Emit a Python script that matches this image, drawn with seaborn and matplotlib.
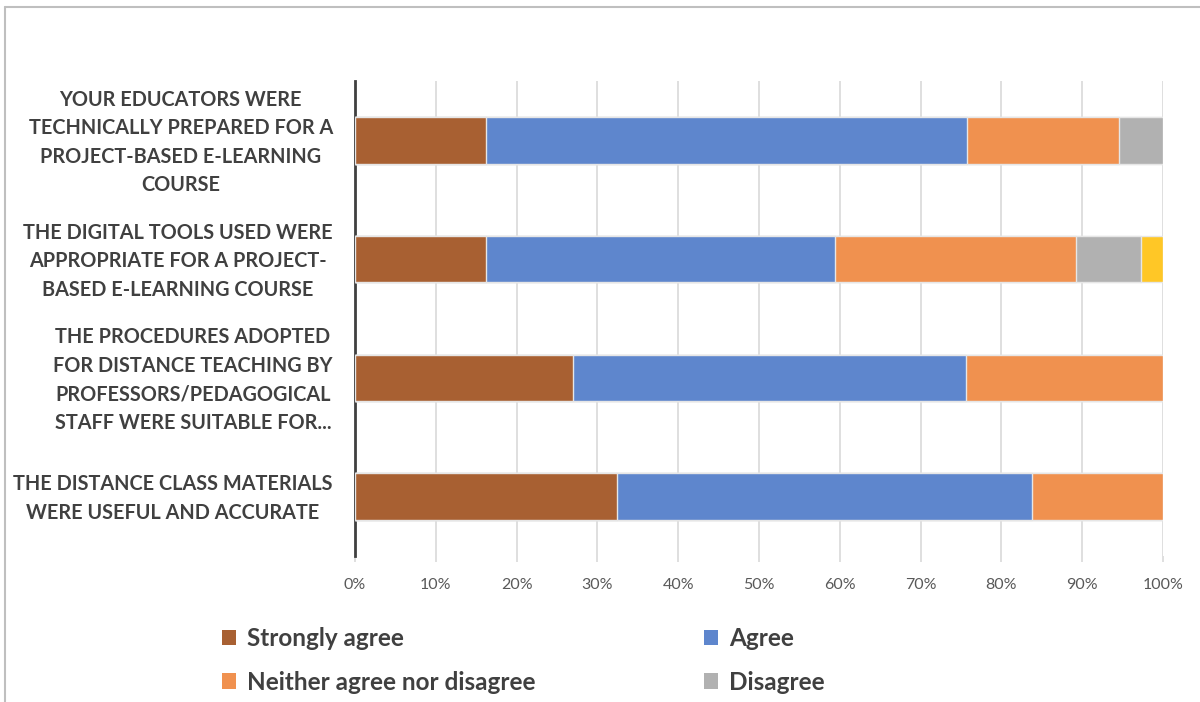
import numpy as np
import pandas as pd
import matplotlib
matplotlib.use("Agg")
import matplotlib.pyplot as plt
import matplotlib.transforms as mtransforms
from matplotlib.patches import Patch
from matplotlib.lines import Line2D
import seaborn as sns

# Survey statements (top to bottom)
questions = [
    "YOUR EDUCATORS WERE\nTECHNICALLY PREPARED FOR A\nPROJECT-BASED E-LEARNING\nCOURSE",
    "THE DIGITAL TOOLS USED WERE\nAPPROPRIATE FOR A PROJECT-\nBASED E-LEARNING COURSE",
    "THE PROCEDURES ADOPTED\nFOR DISTANCE TEACHING BY\nPROFESSORS/PEDAGOGICAL\nSTAFF WERE SUITABLE FOR...",
    "THE DISTANCE CLASS MATERIALS\nWERE USEFUL AND ACCURATE",
]

# Share of answers per statement (%)
strongly_agree = [16.2, 16.2, 27.0, 32.4]
agree = [59.5, 43.2, 48.6, 51.4]
neither = [18.9, 29.7, 24.3, 16.2]
disagree = [5.4, 8.1, 0.0, 0.0]
strongly_disagree = [0.0, 2.7, 0.0, 0.0]

answers = ["Strongly agree", "Agree", "Neither agree nor disagree",
           "Disagree", "Strongly disagree"]
colors = ["#A86032", "#5E86CD", "#F0914F", "#B1B1B1", "#FFC726"]

x_ticks = [0, 10, 20, 30, 40, 50, 60, 70, 80, 90, 100]

series = [strongly_agree, agree, neither, disagree, strongly_disagree]
df = pd.DataFrame({"question": questions})
cum = np.zeros(len(questions))
for name, vals in zip(answers, series):
    cum = cum + np.array(vals)
    df[name] = cum
# Normalise so each stacked bar reaches 100%
total = df[answers[-1]].values.copy()
for name in answers:
    df[name] = df[name] / total * 100

sns.set_theme(style="white")
plt.rcParams["font.family"] = ["Lato", "DejaVu Sans"]

fig = plt.figure(figsize=(12, 7.02), dpi=100)
ax = fig.add_axes([355 / 1200, 1 - 556 / 702, (1163 - 355) / 1200, (556 - 81) / 702])

# Draw cumulative layers from the widest to the narrowest to build the stack
for name, col in reversed(list(zip(answers, colors))):
    sns.barplot(data=df, y="question", x=name, orient="h", color=col,
                width=0.39, ax=ax, edgecolor="#E6E6E6", linewidth=1.0,
                saturation=1, zorder=3)

ax.set_xlim(0, 100)
ax.set_ylim(3.5, -0.5)
ax.set_xticks(x_ticks)
ax.set_xticklabels([f"{t}%" for t in x_ticks], color="#595959", fontsize=11.5)
ax.set_xlabel("")
ax.set_ylabel("")
ax.xaxis.grid(True, color="#D9D9D9", linewidth=1.2, zorder=0)
ax.set_axisbelow(True)
ax.tick_params(axis="x", length=4, color="#D9D9D9", width=1.2, pad=12,
               direction="out", bottom=True)
ax.tick_params(axis="y", length=0, pad=16)
lift = mtransforms.ScaledTranslation(0, 3 / 72, fig.dpi_scale_trans)
for lbl in ax.get_yticklabels():
    lbl.set_fontsize(14.3)
    lbl.set_fontweight("bold")
    lbl.set_color("#404040")
    lbl.set_multialignment("center")
    lbl.set_linespacing(1.53)
    lbl.set_transform(lbl.get_transform() + lift)

for side in ["top", "right", "bottom"]:
    ax.spines[side].set_visible(False)
ax.spines["left"].set_color("#404040")
ax.spines["left"].set_linewidth(2)

# Legend in two columns below the plot (row-major order)
order = [0, 2, 1, 3]
handles = [Patch(facecolor=colors[i], edgecolor="none") for i in order]
fig.legend(handles, [answers[i] for i in order], ncol=2, loc="upper left",
           bbox_to_anchor=(200 / 1200, 1 - 605 / 702), frameon=False,
           prop={"weight": "bold", "size": 17.5}, labelcolor="#404040",
           handlelength=0.6, handleheight=0.6, handletextpad=0.45,
           columnspacing=6.9, labelspacing=0.85)

# Chart frame
fig.add_artist(Line2D([5 / 1200, 5 / 1200], [0, 1 - 7 / 702],
                      transform=fig.transFigure, color="#BFBFBF", linewidth=1.5))
fig.add_artist(Line2D([5 / 1200, 1], [1 - 7 / 702, 1 - 7 / 702],
                      transform=fig.transFigure, color="#BFBFBF", linewidth=1.5))

fig.savefig("out.png", dpi=100)
